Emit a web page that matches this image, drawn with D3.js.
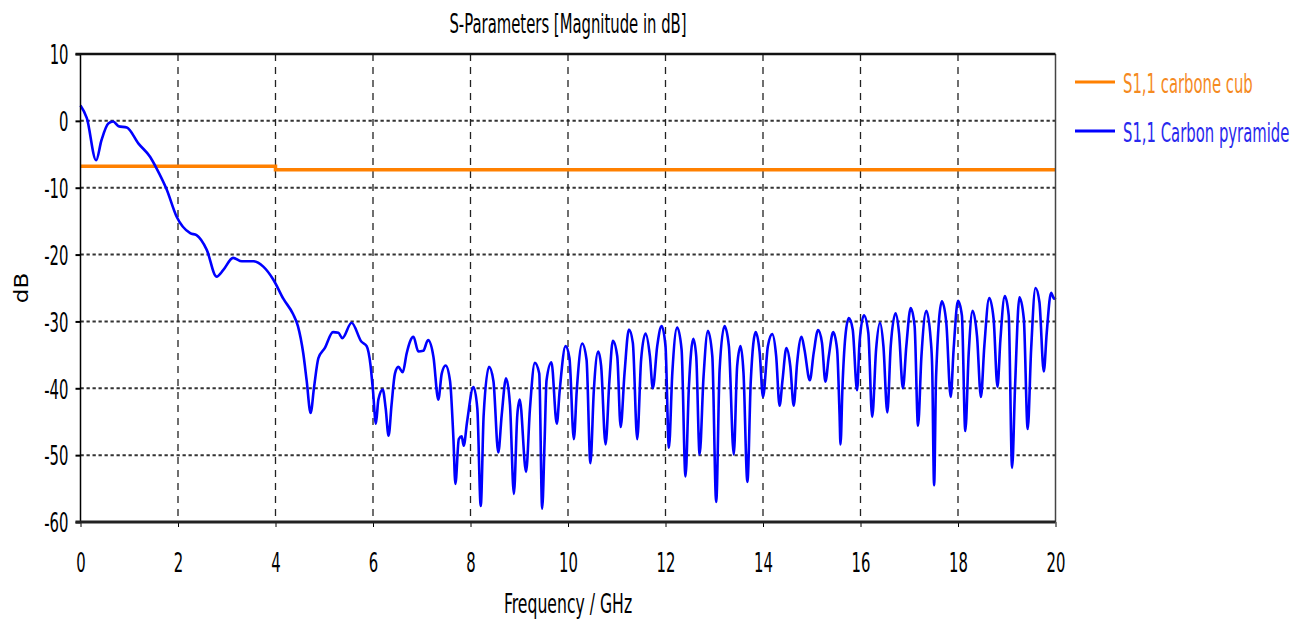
<!DOCTYPE html>
<html>
<head>
<meta charset="utf-8">
<script src="https://cdn.jsdelivr.net/npm/d3@7"></script>
<style>
    body { margin: 0; background: #fff; }
    text { font-family: 'DejaVu Sans', Tahoma, sans-serif; }
</style>
</head>
<body>
<svg id="chart" width="1312" height="624"></svg>
<script>
'use strict';

// S1,1 carbon pyramide (GHz / dB)
var pyrFreq = [
    0, 0.13, 0.32, 0.43, 0.57, 0.67, 0.78, 0.95, 1.19, 1.43, 1.56, 1.77, 1.97, 2.25, 2.38, 2.59, 2.79, 2.93, 3.13, 3.31, 3.55, 3.75, 3.96,
    4.16, 4.36, 4.46, 4.57, 4.64, 4.72, 4.79, 4.88, 5.01, 5.18, 5.29, 5.37, 5.56, 5.76, 5.87, 5.95,
    6.00, 6.06, 6.11, 6.20, 6.26, 6.32, 6.38, 6.45, 6.52, 6.61, 6.69, 6.76, 6.83, 6.93, 7.03, 7.13, 7.24, 7.34, 7.41, 7.49, 7.58, 7.65, 7.69, 7.76, 7.82, 7.86, 7.93,
    8.06, 8.14, 8.21, 8.27, 8.38, 8.47, 8.57, 8.64, 8.73, 8.81, 8.89, 8.96, 9.01, 9.14, 9.22, 9.32, 9.41, 9.47, 9.52, 9.56, 9.66, 9.77, 9.83, 9.95,
    10.03, 10.12, 10.18, 10.29, 10.38, 10.46, 10.53, 10.62, 10.68, 10.77, 10.85, 10.92, 11.01, 11.08, 11.16, 11.25, 11.33, 11.42, 11.50, 11.59, 11.68, 11.74, 11.83, 11.92,
    12.00, 12.07, 12.14, 12.24, 12.33, 12.41, 12.48, 12.57, 12.63, 12.70, 12.78, 12.87, 12.96, 13.04, 13.11, 13.21, 13.30, 13.40, 13.47, 13.54, 13.60, 13.68, 13.75, 13.85, 13.93,
    14.00, 14.10, 14.19, 14.27, 14.34, 14.40, 14.48, 14.56, 14.63, 14.70, 14.79, 14.85, 14.96, 15.04, 15.13, 15.21, 15.28, 15.35, 15.44, 15.52, 15.57, 15.59, 15.63, 15.69, 15.76, 15.84, 15.93, 15.98,
    16.07, 16.16, 16.24, 16.32, 16.40, 16.47, 16.55, 16.62, 16.72, 16.79, 16.87, 16.94, 17.03, 17.11, 17.18, 17.25, 17.35, 17.44, 17.47, 17.51, 17.55, 17.67, 17.76, 17.85, 17.91,
    18.00, 18.08, 18.15, 18.22, 18.30, 18.39, 18.47, 18.54, 18.64, 18.73, 18.81, 18.87, 18.96, 19.04, 19.11, 19.17, 19.26, 19.35, 19.43, 19.50, 19.59, 19.67, 19.76, 19.82, 19.91, 19.97, 20
];
var pyrDb = [
    2.3, 0.4, -5.9, -2.9, -0.4, -0.1, -0.8, -1.0, -3.4, -5.4, -7.1, -10.3, -14.3, -16.8, -17.1, -19.3, -23.3, -22.3, -20.5, -21.0, -21.0, -21.8, -23.8,
    -26.6, -28.9, -30.7, -34.8, -38.9, -43.7, -39.9, -35.5, -34.0, -31.6, -31.7, -32.5, -30.2, -33.0, -33.7, -36.6,
    -40.4, -45.3, -41.7, -40.2, -43.0, -47.1, -42.5, -37.8, -36.8, -37.6, -34.8, -33.0, -32.3, -34.5, -34.4, -32.8, -35.3, -41.7, -37.8, -36.6, -38.9, -47.6, -54.3, -47.6, -47.2, -48.6, -45.0,
    -39.8, -43.0, -57.6, -44.0, -36.8, -38.9, -49.6, -44.0, -38.5, -42.5, -55.8, -44.0, -41.7, -52.5, -43.0, -36.2, -37.8, -58.0, -47.9, -38.8, -36.1, -45.3, -40.3, -33.7,
    -35.5, -47.6, -40.3, -33.3, -35.7, -51.2, -40.3, -34.5, -36.7, -48.4, -38.8, -32.9, -35.2, -45.8, -37.7, -31.2, -33.2, -47.6, -35.7, -31.8, -35.2, -40.0, -33.7, -30.7,
    -33.7, -48.9, -37.7, -30.9, -34.2, -53.2, -39.8, -32.6, -35.2, -49.9, -38.3, -31.4, -35.2, -57.0, -37.2, -30.7, -33.7, -49.9, -36.7, -33.7, -37.7, -54.0, -38.8, -31.6, -34.5,
    -41.3, -33.7, -31.9, -35.2, -42.6, -38.8, -34.0, -36.7, -42.6, -36.2, -32.3, -34.2, -38.8, -34.7, -31.3, -33.2, -39.0, -35.2, -31.6, -34.2, -43.8, -48.4, -39.8, -32.2, -29.5, -31.2, -40.3, -33.2,
    -29.1, -31.7, -44.3, -34.2, -30.2, -33.7, -43.6, -33.7, -28.8, -31.7, -40.0, -33.7, -28.0, -30.7, -45.6, -35.2, -28.4, -32.7, -36.7, -54.5, -38.3, -27.0, -30.2, -41.3, -34.2,
    -26.9, -29.1, -46.4, -34.7, -28.4, -32.2, -41.3, -33.7, -26.5, -29.6, -39.8, -32.7, -26.2, -29.1, -51.9, -39.8, -26.4, -29.6, -46.1, -34.2, -25.0, -27.1, -37.5, -31.7, -25.7, -26.6, -26.4
];

// S1,1 carbone cub, nearly flat with a small step at 4 GHz
var cubFreq = [0, 4, 4, 20];
var cubDb = [-6.8, -6.8, -7.3, -7.3];

var xTicks = [0, 2, 4, 6, 8, 10, 12, 14, 16, 18, 20];
var yTicks = [10, 0, -10, -20, -30, -40, -50, -60];
var seriesNames = ['S1,1 carbone cub', 'S1,1 Carbon pyramide'];
var seriesColors = ['#ff8000', '#0000ff'];
var legendTextColors = ['#f58a1f', '#2828ee'];

var svg = d3.select( '#chart' ),
    plotLeft = 80.5,
    plotRight = 1055.5,
    plotTop = 54,
    plotBottom = 522,
    sx = 0.55,          // the screenshot is squashed sideways, text follows
    fontSize = 27;

var x = d3.scaleLinear().domain( [0, 20] ).range( [plotLeft, plotRight] ),
    y = d3.scaleLinear().domain( [-60, 10] ).range( [plotBottom, plotTop] );

// plain hyphen for negatives, like the original
function fmt( d ){
    return String( d );
}

function addText( g, px, py, str, anchor, color, size, scaleX ){
    return g.append( 'text' )
        .attr( 'transform', 'translate(' + px + ',' + py + ') scale(' + ( scaleX || sx ) + ',1)' )
        .attr( 'text-anchor', anchor || 'start' )
        .style( 'font-size', ( size || fontSize ) + 'px' )
        .style( 'fill', color || '#000' )
        .text( str );
}

// grid
svg.append( 'g' ).selectAll( 'line' )
    .data( yTicks.slice( 1, -1 ) )
    .enter().append( 'line' )
    .attr( 'x1', plotLeft ).attr( 'x2', plotRight )
    .attr( 'y1', function( d ){ return y(d); } )
    .attr( 'y2', function( d ){ return y(d); } )
    .style( 'stroke', '#333' )
    .style( 'stroke-width', 2 )
    .style( 'stroke-dasharray', '3.3,2.7' );

svg.append( 'g' ).selectAll( 'line' )
    .data( xTicks.slice( 1, -1 ) )
    .enter().append( 'line' )
    .attr( 'y1', plotTop ).attr( 'y2', plotBottom )
    .attr( 'x1', function( d ){ return x(d); } )
    .attr( 'x2', function( d ){ return x(d); } )
    .style( 'stroke', '#222' )
    .style( 'stroke-width', 1.3 )
    .style( 'stroke-dasharray', '7,6' );

// curves
var line = d3.line()
    .x( function( d ){ return x( d[0] ); } )
    .y( function( d ){ return y( d[1] ); } );

svg.append( 'path' )
    .datum( d3.zip( cubFreq, cubDb ) )
    .attr( 'd', line )
    .style( 'fill', 'none' )
    .style( 'stroke', seriesColors[0] )
    .style( 'stroke-width', 3.5 );

svg.append( 'path' )
    .datum( d3.zip( pyrFreq, pyrDb ) )
    .attr( 'd', line.curve( d3.curveMonotoneX ) )
    .style( 'fill', 'none' )
    .style( 'stroke', seriesColors[1] )
    .style( 'stroke-width', 2.6 )
    .style( 'stroke-linejoin', 'round' );

// axes
var xAxis = svg.append( 'g' )
    .attr( 'transform', 'translate(0,' + plotBottom + ')' )
    .call( d3.axisBottom( x ).tickValues( xTicks ).tickSize( 5 ).tickFormat( fmt ) );

xAxis.select( '.domain' ).remove();
xAxis.selectAll( 'line' ).style( 'stroke', '#000' ).style( 'stroke-width', 1 );
xAxis.selectAll( 'text' )
    .attr( 'y', 50 )
    .attr( 'dy', 0 )
    .attr( 'transform', 'scale(' + sx + ',1)' )
    .style( 'font-size', fontSize + 'px' )
    .style( 'font-family', "'DejaVu Sans', Tahoma, sans-serif" );

var yAxis = svg.append( 'g' )
    .attr( 'transform', 'translate(' + plotLeft + ',0)' )
    .call( d3.axisLeft( y ).tickValues( yTicks ).tickSize( 5 ).tickFormat( fmt ) );

yAxis.select( '.domain' ).remove();
yAxis.selectAll( 'line' ).style( 'stroke', '#000' ).style( 'stroke-width', 2 );
yAxis.selectAll( 'text' )
    .attr( 'x', -12 / sx )
    .attr( 'dy', '0.36em' )
    .attr( 'transform', 'scale(' + sx + ',1)' )
    .style( 'font-size', fontSize + 'px' )
    .style( 'font-family', "'DejaVu Sans', Tahoma, sans-serif" );

// frame
svg.append( 'line' ).attr( 'x1', plotLeft ).attr( 'x2', plotLeft ).attr( 'y1', plotTop ).attr( 'y2', plotBottom )
    .style( 'stroke', '#000' ).style( 'stroke-width', 1.5 );
svg.append( 'line' ).attr( 'x1', plotRight ).attr( 'x2', plotRight ).attr( 'y1', plotTop ).attr( 'y2', plotBottom )
    .style( 'stroke', '#444' ).style( 'stroke-width', 1.5 );
svg.append( 'line' ).attr( 'x1', plotLeft - 5 ).attr( 'x2', plotRight ).attr( 'y1', plotTop ).attr( 'y2', plotTop )
    .style( 'stroke', '#111' ).style( 'stroke-width', 2.5 );
svg.append( 'line' ).attr( 'x1', plotLeft - 5 ).attr( 'x2', plotRight ).attr( 'y1', plotBottom ).attr( 'y2', plotBottom )
    .style( 'stroke', '#222' ).style( 'stroke-width', 3 );

// titles
addText( svg, ( plotLeft + plotRight ) / 2, 33, 'S-Parameters [Magnitude in dB]', 'middle' );
addText( svg, ( plotLeft + plotRight ) / 2, 613, 'Frequency / GHz', 'middle', '#000', fontSize, 0.58 );
svg.append( 'text' )
    .attr( 'transform', 'translate(28,' + ( ( plotTop + plotBottom ) / 2 ) + ') rotate(-90) scale(1.15,1)' )
    .attr( 'text-anchor', 'middle' )
    .style( 'font-size', '20px' )
    .text( 'dB' );

// legend
var legend = svg.append( 'g' ).selectAll( 'g' )
    .data( seriesNames )
    .enter().append( 'g' )
    .attr( 'transform', function( d, i ){ return 'translate(1075,' + ( 82 + i * 49 ) + ')'; } );

legend.append( 'line' )
    .attr( 'x1', 0 ).attr( 'x2', 40 )
    .style( 'stroke', function( d, i ){ return seriesColors[i]; } )
    .style( 'stroke-width', 3 );

legend.each( function( d, i ){
    addText( d3.select( this ), 48, 11, d, 'start', legendTextColors[i] );
} );
</script>
</body>
</html>
